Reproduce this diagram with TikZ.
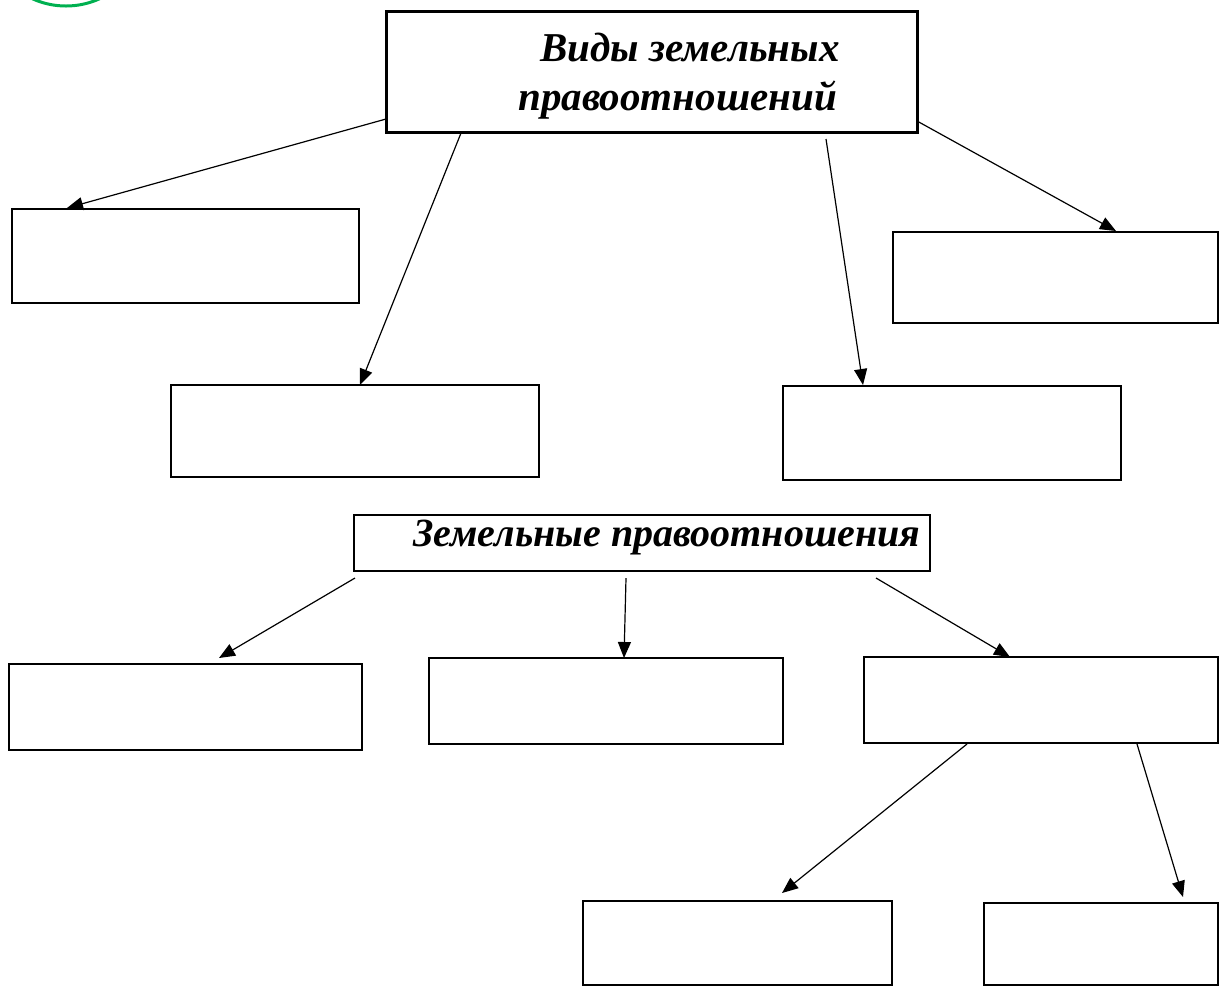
\documentclass[tikz,border=0pt]{standalone}
\usepackage{fontspec}
\setmainfont{Liberation Serif}
\usetikzlibrary{arrows.meta}
\definecolor{ringgreen}{RGB}{0,176,80}
\begin{document}
\begin{tikzpicture}[x=0.5pt,y=-0.5pt,
  box/.style={draw, line width=1.3pt, inner sep=0pt, rectangle},
  arr/.style={line width=0.6pt, -{Triangle[length=8pt,width=6.5pt]}},
  ttl/.style={font=\fontsize{20.5}{25}\selectfont\bfseries\itshape, inner sep=0pt, anchor=west}]
\useasboundingbox (0,0) rectangle (1220,987);
\begin{scope}
\clip (0,0) rectangle (1220,987);
\draw[ringgreen, line width=1.5pt] (66,-75) circle[radius=40.5pt];
\end{scope}
% boxes
\node[box, line width=1.5pt, minimum width={531*0.5pt}, minimum height={121*0.5pt}] (top) at (651.5,71.5) {};
\node[box, minimum width={347*0.5pt}, minimum height={94*0.5pt}] (L1) at (185.5,256) {};
\node[box, minimum width={368*0.5pt}, minimum height={92*0.5pt}] (L2) at (355,431) {};
\node[box, minimum width={338*0.5pt}, minimum height={94*0.5pt}] (R2) at (952,433) {};
\node[box, minimum width={325*0.5pt}, minimum height={91*0.5pt}] (R1) at (1055.5,277.5) {};
\node[box, minimum width={576*0.5pt}, minimum height={56*0.5pt}] (T2) at (642,543) {};
\node[box, minimum width={353*0.5pt}, minimum height={86*0.5pt}] (B1) at (185.5,707) {};
\node[box, minimum width={354*0.5pt}, minimum height={86*0.5pt}] (B2) at (606,701) {};
\node[box, minimum width={354*0.5pt}, minimum height={86*0.5pt}] (B3) at (1041,700) {};
\node[box, minimum width={309*0.5pt}, minimum height={84*0.5pt}] (B4) at (737.5,943) {};
\node[box, minimum width={234*0.5pt}, minimum height={82*0.5pt}] (B5) at (1101,944) {};
% texts
\node[ttl] (t1) at (540,48) {Виды земельных};
\node[ttl] (t2) at (518,100) {правоотношений};
\node[ttl, font=\fontsize{20}{24}\selectfont\bfseries\itshape] (t3) at (413,538) {Земельные правоотношения};
% connector endpoints
\coordinate (s1) at (386,119); \coordinate (e1) at (67,208);
\coordinate (s2) at (461,133); \coordinate (e2) at (360,385);
\coordinate (s3) at (826,139); \coordinate (e3) at (863,385);
\coordinate (s4) at (917,121); \coordinate (e4) at (1116,231);
\coordinate (s5) at (355,578); \coordinate (e5) at (219,658);
\coordinate (s6) at (626,578); \coordinate (e6) at (624,658);
\coordinate (s7) at (876,578); \coordinate (e7) at (1010,657);
\coordinate (s8) at (967,744); \coordinate (e8) at (782,893);
\coordinate (s9) at (1137,744); \coordinate (e9) at (1183,897);
\foreach \i in {1,...,9} \draw[arr] (s\i) -- (e\i);
\end{tikzpicture}
\end{document}
